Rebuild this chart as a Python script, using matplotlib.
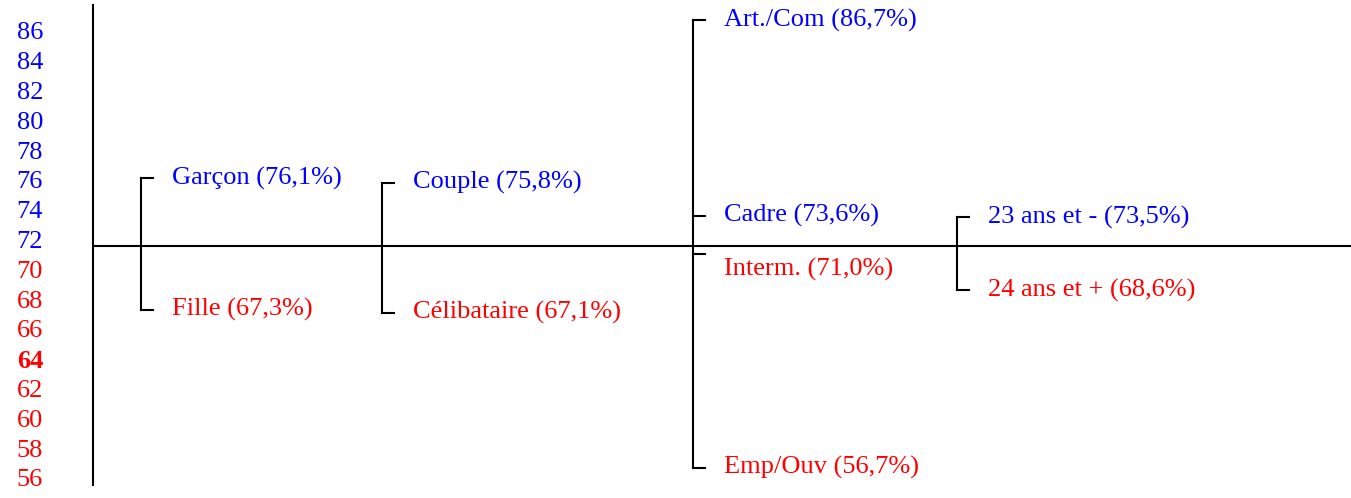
import matplotlib.pyplot as plt

# groups of categories with their rates (%)
groups = [
    ["Garçon", "Fille"],
    ["Couple", "Célibataire"],
    ["Art./Com", "Cadre", "Interm.", "Emp/Ouv"],
    ["23 ans et -", "24 ans et +"],
]
rates = [
    [76.1, 67.3],
    [75.8, 67.1],
    [86.7, 73.6, 71.0, 56.7],
    [73.5, 68.6],
]
mean_rate = 71.6
ticks = list(range(56, 87, 2))

# layout (pixels from the axis line)
group_x = [48, 289, 600, 864]
tick_len = 12
text_gap = 31

plt.rcParams['font.family'] = ['Liberation Serif', 'DejaVu Serif']
fig = plt.figure(figsize=(13.51, 4.98), dpi=100)
ax = fig.add_axes([93 / 1351, 13 / 498, 1258 / 1351, 480 / 498])
ax.set_xlim(0, 1258)
ax.set_ylim(55.53, 87.74)

for s in ["top", "right", "bottom"]:
    ax.spines[s].set_visible(False)
ax.spines["left"].set_linewidth(1.5)
ax.set_xticks([])
ax.set_yticks(ticks)
ax.set_yticklabels([str(t) for t in ticks], fontsize=19)
ax.tick_params(axis="y", length=0, pad=36)
for t, lab in zip(ticks, ax.get_yticklabels()):
    lab.set_color("blue" if t >= 72 else "red")
    if t == 64:
        lab.set_fontweight("bold")

ax.axhline(mean_rate, color="black", lw=1.5)

for x, names, vals in zip(group_x, groups, rates):
    ax.plot([x, x], [min(vals), max(vals)], color="black", lw=1.5)
    for name, v in zip(names, vals):
        ax.plot([x, x + tick_len], [v, v], color="black", lw=1.5)
        above = v > mean_rate
        col = "blue" if above else "red"
        # keep labels clear of the mean line
        ty = v if above else min(v, mean_rate - 1.6)
        txt = f"{name} ({str(v).replace('.', ',')}%)"
        ax.text(x + text_gap, ty, txt, color=col, fontsize=19, va="center", ha="left")

fig.savefig("out.png", dpi=100)
